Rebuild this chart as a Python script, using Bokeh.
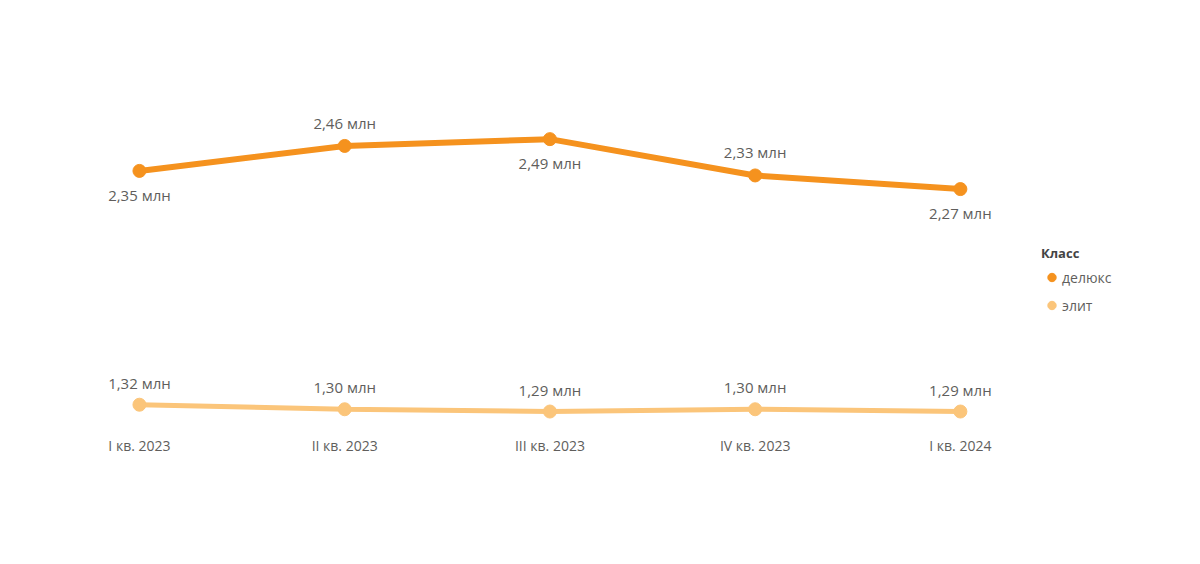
from bokeh.plotting import figure
from bokeh.models import ColumnDataSource, FixedTicker, Legend, LegendItem, Range1d
from bokeh.core.properties import value
from bokeh.embed import file_html
from bokeh.resources import INLINE

quarters = ["I кв. 2023", "II кв. 2023", "III кв. 2023", "IV кв. 2023", "I кв. 2024"]
deluxe = [2.35, 2.46, 2.49, 2.33, 2.27]
elite = [1.32, 1.30, 1.29, 1.30, 1.29]

C_DELUXE = "#F5921E"
C_ELITE = "#FBC57A"
TXT = "#605E5C"
FONT = "Open Sans"

W, H = 1184, 548
frame_h = 422

p = figure(width=W, height=H, output_backend="svg", toolbar_location=None,
           x_range=Range1d(-0.638, 5.092), y_range=Range1d(1.2064, 3.0655),
           min_border_left=8, min_border_right=0, min_border_top=8,
           min_border_bottom=H - frame_h - 8)
p.outline_line_color = None
p.grid.visible = False
p.yaxis.visible = False
p.background_fill_color = "white"
p.border_fill_color = "white"

xs = list(range(len(quarters)))

def fmt(v):
    return f"{v:.2f}".replace(".", ",") + " млн"

src_d = ColumnDataSource(dict(x=xs, y=deluxe, lab=[fmt(v) for v in deluxe],
                              off=[24, -23, 24, -23, 24]))
src_e = ColumnDataSource(dict(x=xs, y=elite, lab=[fmt(v) for v in elite],
                              off=[-22, -22, -22, -22, -22]))

p.line("x", "y", source=src_d, line_color=C_DELUXE, line_width=6)
rd = p.scatter("x", "y", source=src_d, size=13, color=C_DELUXE)
p.line("x", "y", source=src_e, line_color=C_ELITE, line_width=5)
re_ = p.scatter("x", "y", source=src_e, size=13, color=C_ELITE)

for s in (src_d, src_e):
    p.text("x", "y", text="lab", source=s, y_offset="off",
           text_align="center", text_baseline="middle",
           text_font=value(FONT), text_font_size="15px", text_color=TXT)

ax = p.xaxis[0]
ax.ticker = FixedTicker(ticks=xs)
ax.major_label_overrides = {i: q for i, q in enumerate(quarters)}
ax.axis_line_color = None
ax.major_tick_line_color = None
ax.minor_tick_line_color = None
ax.major_tick_out = 0
ax.major_label_standoff = 5
ax.major_label_text_font = FONT
ax.major_label_text_font_size = "14px"
ax.major_label_text_color = TXT

legend = Legend(items=[LegendItem(label="делюкс", renderers=[rd]),
                       LegendItem(label="элит", renderers=[re_])],
                location=(1033, 114), title="Класс",
                title_text_font=FONT, title_text_font_style="bold",
                title_text_font_size="13px", title_text_color="#444444",
                label_text_font=FONT, label_text_font_size="14px",
                label_text_color=TXT, border_line_color=None,
                background_fill_alpha=0, padding=0, margin=0,
                spacing=6, glyph_width=21, glyph_height=22, label_standoff=0,
                label_height=22, title_standoff=4)
p.add_layout(legend)

open("out.html", "w").write(file_html(p, INLINE))
